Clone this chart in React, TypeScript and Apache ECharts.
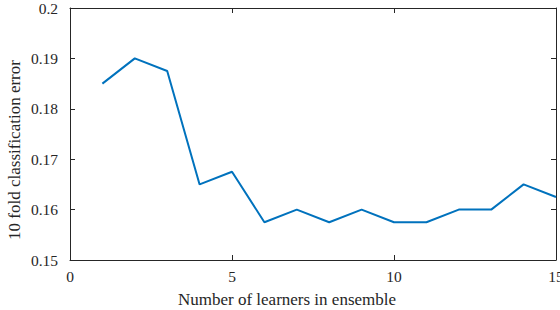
import React, { useEffect, useRef } from "react";
import * as echarts from "echarts";

const learners = [1, 2, 3, 4, 5, 6, 7, 8, 9, 10, 11, 12, 13, 14, 15];
const errors = [0.185, 0.19, 0.1875, 0.165, 0.1675, 0.1575, 0.16, 0.1575, 0.16, 0.1575, 0.1575, 0.16, 0.16, 0.165, 0.1625];
const xTicks = [0, 5, 10, 15];
const yTickLabels = ["0.15", "0.16", "0.17", "0.18", "0.19", "0.2"];
const xTitle = "Number of learners in ensemble";
const yTitle = "10 fold classification error";

export default function App() {
  const ref = useRef<HTMLDivElement>(null);
  useEffect(() => {
    if (!ref.current) return;
    const chart = echarts.init(ref.current, undefined, { renderer: "svg" });
    const font = "Liberation Serif";
    const axisColor = "#262626";
    const tickCommon = { show: true, inside: true, length: 5, lineStyle: { color: axisColor, width: 1 } };
    chart.setOption({
      animation: false,
      grid: { left: 70, top: 8, width: 486, height: 252, containLabel: false, outerBoundsMode: "none" },
      graphic: [
        {
          type: "text",
          x: 287,
          y: 299,
          style: {
            text: xTitle,
            fill: "#262626",
            fontFamily: font,
            fontSize: 17,
            textAlign: "center",
            textVerticalAlign: "middle",
          },
        },
        {
          type: "text",
          x: 14,
          y: 150,
          rotation: Math.PI / 2,
          style: {
            text: yTitle,
            fill: "#262626",
            fontFamily: font,
            fontSize: 17,
            textAlign: "center",
            textVerticalAlign: "middle",
          },
        },
      ],
      xAxis: [
        {
          type: "value",
          min: 0,
          max: 15,
          interval: 5,
          axisLine: { show: true, onZero: false, lineStyle: { color: axisColor, width: 1 } },
          axisTick: tickCommon,
          splitLine: { show: false },
          axisLabel: {
            color: "#262626",
            fontFamily: font,
            fontSize: 15.5,
            margin: 8,
            formatter: (v: number) => (xTicks.indexOf(v) >= 0 ? String(v) : ""),
          },
        },
        {
          type: "value",
          position: "top",
          min: 0,
          max: 15,
          interval: 5,
          axisLine: { show: true, onZero: false, lineStyle: { color: axisColor, width: 1 } },
          axisTick: tickCommon,
          splitLine: { show: false },
          axisLabel: { show: false },
        },
      ],
      yAxis: [
        {
          type: "value",
          min: 0.15,
          max: 0.2,
          interval: 0.01,
          axisLine: { show: true, onZero: false, lineStyle: { color: axisColor, width: 1 } },
          axisTick: tickCommon,
          splitLine: { show: false },
          axisLabel: {
            color: "#262626",
            fontFamily: font,
            fontSize: 15.5,
            margin: 12,
            formatter: (v: number) => yTickLabels[Math.round((v - 0.15) / 0.01)] ?? "",
          },
        },
        {
          type: "value",
          position: "right",
          min: 0.15,
          max: 0.2,
          interval: 0.01,
          axisLine: { show: true, onZero: false, lineStyle: { color: axisColor, width: 1 } },
          axisTick: tickCommon,
          splitLine: { show: false },
          axisLabel: { show: false },
        },
      ],
      series: [
        {
          type: "line",
          data: learners.map((x, i) => [x, errors[i]]),
          showSymbol: false,
          lineStyle: { color: "#0072BD", width: 2 },
          itemStyle: { color: "#0072BD" },
        },
      ],
    });
    return () => chart.dispose();
  }, []);
  return <div ref={ref} style={{ width: 560, height: 310, position: "absolute", left: 0, top: 0 }} />;
}
